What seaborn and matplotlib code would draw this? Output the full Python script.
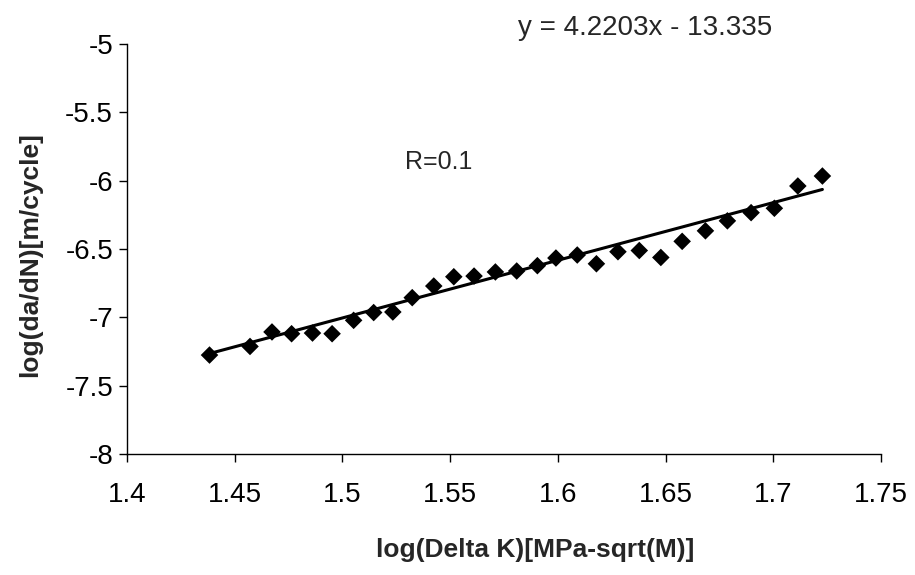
import numpy as np
import pandas as pd
import matplotlib
matplotlib.use("Agg")
import matplotlib.pyplot as plt
import seaborn as sns

log_dk = [1.4383, 1.4571, 1.4673, 1.4764, 1.4861, 1.4952, 1.5052, 1.5145, 1.5234, 1.5324,
          1.5424, 1.5517, 1.5611, 1.5710, 1.5809, 1.5905, 1.5991, 1.6090, 1.6179, 1.6279,
          1.6378, 1.6478, 1.6577, 1.6685, 1.6787, 1.6897, 1.7005, 1.7114, 1.7228]
log_dadn = [-7.276, -7.213, -7.107, -7.120, -7.115, -7.120, -7.022, -6.965, -6.961, -6.856,
            -6.771, -6.703, -6.698, -6.668, -6.661, -6.622, -6.566, -6.544, -6.608, -6.520,
            -6.511, -6.562, -6.444, -6.367, -6.294, -6.234, -6.202, -6.039, -5.966]
slope = 4.2203
intercept = -13.335
x_ticks = [1.4, 1.45, 1.5, 1.55, 1.6, 1.65, 1.7, 1.75]
x_tick_labels = ["1.4", "1.45", "1.5", "1.55", "1.6", "1.65", "1.7", "1.75"]
y_ticks = [-5, -5.5, -6, -6.5, -7, -7.5, -8]
y_tick_labels = ["-5", "-5.5", "-6", "-6.5", "-7", "-7.5", "-8"]
equation_text = "y = 4.2203x - 13.335"
r_text = "R=0.1"
x_label = "log(Delta K)[MPa-sqrt(M)]"
y_label = "log(da/dN)[m/cycle]"

sns.set_style("ticks")
plt.rcParams["font.family"] = ["Liberation Sans", "DejaVu Sans"]

df = pd.DataFrame({"x": log_dk, "y": log_dadn})
fit_x = np.array([min(log_dk), max(log_dk)])
fit_df = pd.DataFrame({"x": fit_x, "y": slope * fit_x + intercept})

fig = plt.figure(figsize=(9.15, 5.75), dpi=100)
ax = fig.add_axes([127 / 915, 1 - 454 / 575, (881 - 127) / 915, (454 - 44) / 575])

sns.lineplot(data=fit_df, x="x", y="y", ax=ax, color="black", linewidth=2.2)
sns.scatterplot(data=df, x="x", y="y", ax=ax, marker="D", s=80, color="black",
                edgecolor="none", zorder=3)

ax.set_xlim(1.4, 1.75)
ax.set_ylim(-8, -5)
ax.set_xticks(x_ticks)
ax.set_xticklabels(x_tick_labels, fontsize=20)
ax.set_yticks(y_ticks)
ax.set_yticklabels(y_tick_labels, fontsize=20)
ax.tick_params(axis="x", direction="out", length=6, width=1, colors="black", pad=14)
ax.tick_params(axis="y", direction="out", length=6, width=1, colors="black", pad=4)
for s in ["left", "bottom"]:
    ax.spines[s].set_linewidth(1)
    ax.spines[s].set_color("black")
sns.despine(ax=ax)

ax.set_xlabel("")
ax.set_ylabel("")
fig.text(535 / 915, 1 - 550 / 575, x_label, ha="center", va="center",
         fontsize=19, fontweight="bold")
fig.text(30 / 915, 1 - 255 / 575, y_label, ha="center", va="center",
         rotation=90, fontsize=19, fontweight="bold")
fig.text(645 / 915, 1 - 28 / 575, equation_text, ha="center", va="center", fontsize=20)
ax.text(1.5449, -5.863, r_text, ha="center", va="center", fontsize=18)

fig.savefig("out.png", dpi=100, facecolor="white")
